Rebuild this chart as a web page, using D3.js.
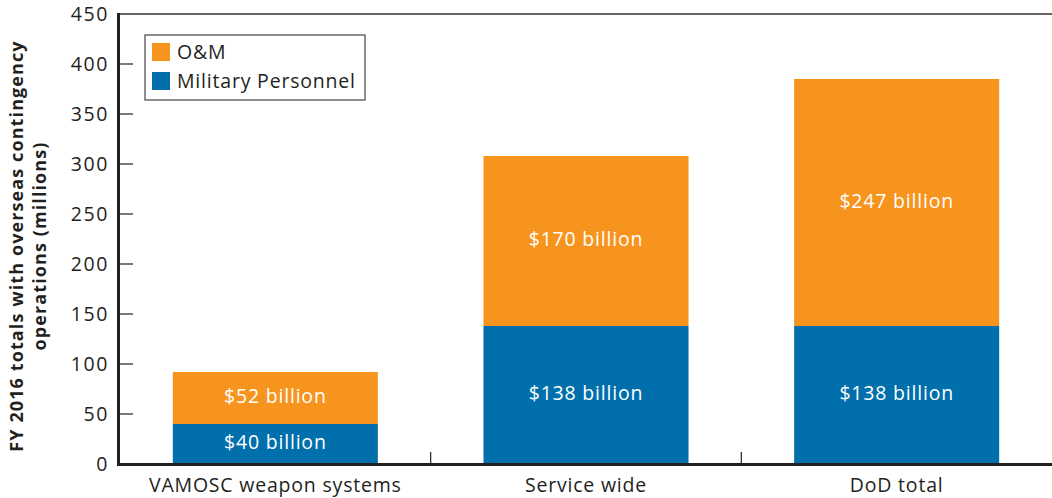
<!DOCTYPE html>
<html>
<head>
<meta charset="utf-8">
<script src="https://cdn.jsdelivr.net/npm/d3@7"></script>
<style>
  html, body { margin: 0; padding: 0; background: #fff; }
  svg text { font-family: "Open Sans", "Noto Sans", sans-serif; fill: #231f20; }
</style>
</head>
<body>
<svg id="chart" width="1052" height="498"></svg>
<script>
// FY 2016 totals with overseas contingency operations
const categories = ["VAMOSC weapon systems", "Service wide", "DoD total"];
const militaryPersonnel = [40, 138, 138];
const operationsMaintenance = [52, 170, 247];
const segmentLabels = {
  mp: ["$40 billion", "$138 billion", "$138 billion"],
  om: ["$52 billion", "$170 billion", "$247 billion"]
};
const yTicks = [0, 50, 100, 150, 200, 250, 300, 350, 400, 450];
const seriesNames = ["O&M", "Military Personnel"];
const colors = { om: "#f7941e", mp: "#006fac" };

const svg = d3.select("#chart");
const margin = { left: 120, right: 0, top: 14, bottom: 34 };
const W = 1052, H = 498;
const fontSize = "19.5px";
const tracking = "0.8px";

const x = d3.scaleBand()
  .domain(categories)
  .range([margin.left, W - margin.right])
  .paddingInner(0.34)
  .paddingOuter(0.17);

const y = d3.scaleLinear().domain([0, 450]).range([H - margin.bottom, margin.top]);

const rows = categories.map((c, i) => ({
  cat: c, mp: militaryPersonnel[i], om: operationsMaintenance[i], i
}));
const stack = d3.stack().keys(["mp", "om"])(rows);

// bars
const g = svg.append("g");
stack.forEach(layer => {
  g.selectAll(null).data(layer).enter().append("rect")
    .attr("x", d => x(d.data.cat))
    .attr("width", x.bandwidth())
    .attr("y", d => y(d[1]))
    .attr("height", d => y(d[0]) - y(d[1]))
    .attr("fill", colors[layer.key]);
  g.selectAll(null).data(layer).enter().append("text")
    .attr("x", d => x(d.data.cat) + x.bandwidth() / 2)
    .attr("y", d => (y(d[0]) + y(d[1])) / 2)
    .attr("dy", "0.28em")
    .attr("text-anchor", "middle")
    .style("fill", "#fff")
    .style("font-size", fontSize)
    .style("letter-spacing", tracking)
    .text(d => segmentLabels[layer.key][d.data.i]);
});

// top frame line
svg.append("line")
  .attr("x1", margin.left).attr("x2", W)
  .attr("y1", y(450)).attr("y2", y(450))
  .attr("stroke", "#666").attr("stroke-width", 2);

// y axis
const yAxis = d3.axisLeft(y).tickValues(yTicks).tickSize(0).tickPadding(11);
const yg = svg.append("g").attr("transform", `translate(${margin.left},0)`).call(yAxis);
yg.select(".domain").remove();
yg.selectAll("text").style("font-size", fontSize).style("letter-spacing", "1.6px").style("fill", "#231f20");
svg.append("g").selectAll("line").data(yTicks.filter(t => t > 0 && t < 450)).enter().append("line")
  .attr("x1", margin.left).attr("x2", margin.left + 13)
  .attr("y1", d => y(d)).attr("y2", d => y(d))
  .attr("stroke", "#231f20").attr("stroke-width", 1.2);
svg.append("line")
  .attr("x1", margin.left - 1.5).attr("x2", margin.left - 1.5)
  .attr("y1", y(450) - 1).attr("y2", y(0) + 1.5)
  .attr("stroke", "#231f20").attr("stroke-width", 3);

// x axis
const xAxis = d3.axisBottom(x).tickSize(0).tickPadding(14);
const xg = svg.append("g").attr("transform", `translate(0,${y(0)})`).call(xAxis);
xg.select(".domain").remove();
xg.selectAll("text").style("font-size", fontSize).style("letter-spacing", tracking).style("fill", "#231f20");
const step = x.step();
const boundaries = categories.slice(1).map(c => x(c) - x.paddingInner() * step / 2);
svg.append("g").selectAll("line").data(boundaries).enter().append("line")
  .attr("x1", d => d).attr("x2", d => d)
  .attr("y1", y(0)).attr("y2", y(0) - 12)
  .attr("stroke", "#231f20").attr("stroke-width", 1.2);
svg.append("line")
  .attr("x1", margin.left - 3).attr("x2", W)
  .attr("y1", y(0) + 0.5).attr("y2", y(0) + 0.5)
  .attr("stroke", "#231f20").attr("stroke-width", 3);

// y axis title
const yt = svg.append("text")
  .attr("transform", `translate(23,246) rotate(-90)`)
  .attr("text-anchor", "middle")
  .style("font-size", "18px").style("font-weight", "bold").style("letter-spacing", "1.1px");
yt.append("tspan").attr("x", 0).attr("dy", 0).text("FY 2016 totals with overseas contingency");
yt.append("tspan").attr("x", 0).attr("dy", 22.5).text("operations (millions)");

// legend
const lg = svg.append("g").attr("transform", "translate(145,35)");
lg.append("rect").attr("width", 220).attr("height", 65)
  .attr("fill", "#fff").attr("stroke", "#444").attr("stroke-width", 1.2);
const legendKeys = ["om", "mp"];
seriesNames.forEach((name, i) => {
  lg.append("rect").attr("x", 7).attr("y", 8 + i * 29).attr("width", 18).attr("height", 18)
    .attr("fill", colors[legendKeys[i]]);
  lg.append("text").attr("x", 32).attr("y", 17 + i * 29).attr("dy", "0.36em")
    .style("font-size", fontSize).style("letter-spacing", tracking).text(name);
});
</script>
</body>
</html>
